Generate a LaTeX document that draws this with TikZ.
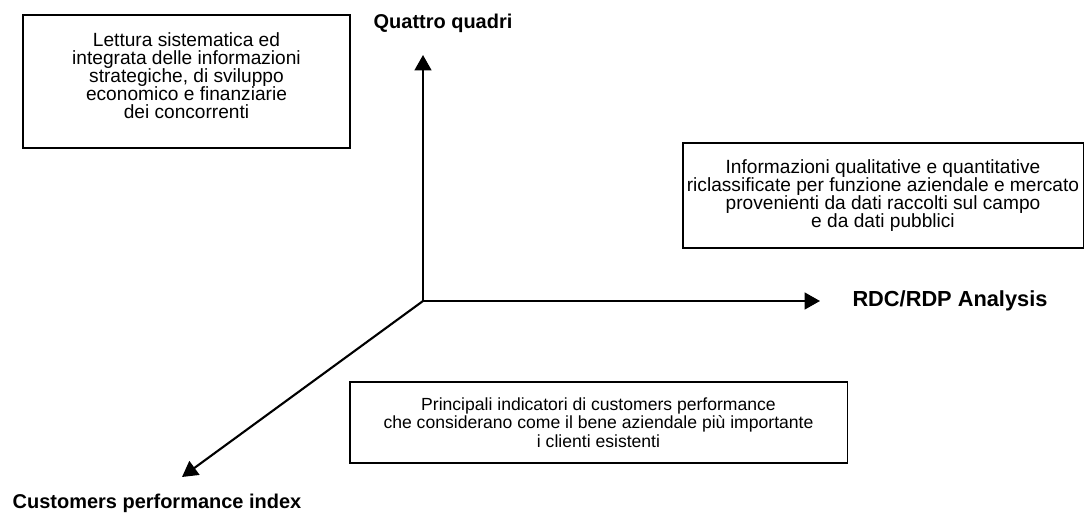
\documentclass[tikz,border=0pt]{standalone}
\usepackage{fontspec}
\setmainfont{Liberation Sans}
\usetikzlibrary{arrows.meta}

\tikzset{
  infobox/.style={draw, line width=0.8pt, align=center, inner sep=0pt,
    font=\fontsize{13.6}{12.8}\selectfont},
  axislabel/.style={font=\fontsize{14.2}{16}\selectfont\bfseries},
  axis/.style={line width=1.5pt, -{Triangle[length=11pt,width=12pt]}}
}

\begin{document}
\begin{tikzpicture}[x=0.025cm, y=-0.025cm]
        \useasboundingbox (0,0) rectangle (1086,518);
        % riquadri
        \node[infobox, minimum width=8.175cm, minimum height=3.325cm] (lettura) at (186.5,81.5)
            {Lettura sistematica ed\\integrata delle informazioni\\strategiche, di sviluppo\\economico e finanziarie\\dei concorrenti\\[-4pt]\mbox{}};
        \node[infobox, minimum width=10cm, minimum height=2.625cm] (informazioni) at (883,195.5)
            {Informazioni qualitative e quantitative\\riclassificate per funzione aziendale e mercato\\provenienti da dati raccolti sul campo\\e da dati pubblici};
        \node[infobox, font=\fontsize{12.5}{13}\selectfont, minimum width=12.425cm, minimum height=2.025cm] (indicatori) at (598.5,422.5)
            {Principali indicatori di customers performance\\che considerano come il bene aziendale più importante\\i clienti esistenti};
        % assi
        \coordinate (origine) at (423,301);
        \coordinate (cima) at (423,55);
        \coordinate (destra) at (820,301);
        \coordinate (basso) at (182,477);
        \node[axislabel] (quadri) at (443,23) {Quattro quadri};
        \node[axislabel, font=\fontsize{15.5}{17}\selectfont\bfseries] (rdc) at (950,301) {RDC/RDP Analysis};
        \node[axislabel] (customers) at (157,503) {Customers performance index};
        \draw[axis] (origine) -- (cima);
        \draw[axis] (origine) -- (destra);
        \draw[axis] (origine) -- (basso);
    \end{tikzpicture}
\end{document}
